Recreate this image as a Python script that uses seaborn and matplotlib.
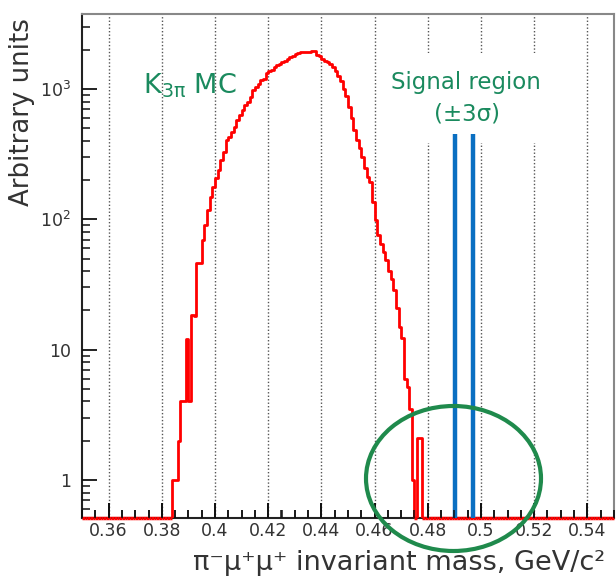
import numpy as np
import pandas as pd
import matplotlib
matplotlib.use("Agg")
import matplotlib.pyplot as plt
from matplotlib.lines import TICKUP
from matplotlib.patches import Ellipse, Rectangle
from matplotlib.ticker import FixedLocator, MultipleLocator, LogLocator, NullFormatter
import seaborn as sns

# ---- data -------------------------------------------------------------
x_min, x_max = 0.35, 0.55          # GeV/c^2
bin_width = 0.001
first_filled_edge = 0.384
# K3pi MC entries per bin, starting at first_filled_edge
counts = [1, 1, 2, 4, 4, 12, 4, 18.5, 18, 46,
          46, 69, 90, 118, 149, 178, 207, 240, 285, 330,
          405, 430, 470, 515, 580, 630, 690, 755, 800, 870,
          980, 1040, 1100, 1170, 1205, 1320, 1370, 1400, 1470, 1520,
          1560, 1610, 1640, 1700, 1760, 1790, 1860, 1880, 1915, 1910,
          1920, 1915, 1970, 1960, 1840, 1780, 1700, 1640, 1600, 1550,
          1480, 1370, 1260, 1150, 1000, 880, 730, 600, 485, 405,
          350, 300, 250, 212, 195, 137, 99, 76, 65, 56,
          49, 40, 35, 28.7, 21, 15, 12.3, 6.0, 5.2, 3.5,
          1, 0, 2.1, 2.1]
signal_lo, signal_hi = 0.4903, 0.4971
signal_line_top = 450
y_lo, y_hi = 0.51, 3770
x_ticks = [0.36, 0.38, 0.40, 0.42, 0.44, 0.46, 0.48, 0.50, 0.52, 0.54]
x_tick_labels = ["0.36", "0.38", "0.4", "0.42", "0.44", "0.46", "0.48", "0.5", "0.52", "0.54"]
x_minor_step = 0.005
y_ticks = [1, 10, 100, 1000]
y_tick_labels = ["1", "10", r"$10^{2}$", r"$10^{3}$"]

# ---- histogram arrays ------------------------------------------------
n_bins = int(round((x_max - x_min) / bin_width))
edges = np.round(x_min + bin_width * np.arange(n_bins + 1), 6)
heights = np.zeros(n_bins)
start = int(round((first_filled_edge - x_min) / bin_width))
heights[start:start + len(counts)] = counts
hist_df = pd.DataFrame({"mass": 0.5 * (edges[:-1] + edges[1:]), "entries": heights})

# ---- style -------------------------------------------------------------
sns.set_theme(style="ticks")
plt.rcParams["font.family"] = ["DejaVu Sans"]
plt.rcParams["mathtext.fontset"] = "dejavusans"

W, H = 616, 579
fig = plt.figure(figsize=(W / 100, H / 100), dpi=100)
ax = fig.add_axes([82 / W, 1 - 518 / H, (614 - 82) / W, (518 - 14) / H])
ax.set_axisbelow(False)

def fxy(x, y):
    return x / W, 1 - y / H

green_text = "#1a8a5e"
green_ring = "#1f8a4c"
blue = "#0a6fc2"
tick_col = "#111111"

# vertical dotted grid at major ticks
for xt in x_ticks:
    ax.axvline(xt, color="#555555", lw=1.0, ls=(0, (1, 1.5)), zorder=1)

sns.histplot(data=hist_df, x="mass", weights="entries", bins=edges.tolist(),
             element="step", fill=False, color="red", linewidth=2.0, ax=ax, zorder=4)

ax.set_yscale("log")
ax.set_xlim(x_min, x_max)
ax.set_ylim(y_lo, y_hi)

# empty bins are drawn along the bottom of the frame
zero = heights <= 0
ax.hlines(np.full(zero.sum(), y_lo), edges[:-1][zero], edges[1:][zero],
          color="red", lw=2.5, zorder=3, clip_on=False)

# white panel behind the signal-region caption
ax.add_artist(Rectangle(fxy(380, 143), 170 / W, 90 / H, transform=fig.transFigure,
                        facecolor="white", edgecolor="none", zorder=2))

# signal region boundaries
ax.vlines([signal_lo, signal_hi], y_lo, signal_line_top, color=blue, lw=3.2, zorder=5)

# ticks
ax.xaxis.set_major_locator(FixedLocator(x_ticks))
ax.set_xticklabels(x_tick_labels)
ax.xaxis.set_minor_locator(MultipleLocator(x_minor_step))
ax.yaxis.set_major_locator(FixedLocator(y_ticks))
ax.set_yticklabels(y_tick_labels)
ax.yaxis.set_minor_locator(LogLocator(base=10, subs=np.arange(2, 10), numticks=20))
ax.yaxis.set_minor_formatter(NullFormatter())
ax.tick_params(which="both", direction="in", bottom=True, left=True, top=False, right=False)
ax.tick_params(which="major", length=11, width=1.3, color=tick_col,
               labelcolor="#333333", labelsize=12.5, pad=3)
ax.tick_params(which="minor", length=6, width=1.1, color=tick_col)
ax.tick_params(axis="y", which="major", pad=8)

# inward tick marks along the mass axis
minor_x = [v for v in np.round(np.arange(x_min, x_max + 1e-9, x_minor_step), 4)
           if min(abs(v - t) for t in x_ticks) > 1e-6]
xaxis_tf = ax.get_xaxis_transform()
ax.plot(x_ticks, np.zeros(len(x_ticks)), transform=xaxis_tf, ls="none", marker=TICKUP,
        ms=11, mew=1.3, color=tick_col, clip_on=False, zorder=9)
ax.plot(minor_x, np.zeros(len(minor_x)), transform=xaxis_tf, ls="none", marker=TICKUP,
        ms=6, mew=1.1, color=tick_col, clip_on=False, zorder=9)

for side, sp in ax.spines.items():
    sp.set_color("#222222" if side in ("left", "bottom") else "#888888")
    sp.set_linewidth(1.5)
ax.set_xlabel("")
ax.set_ylabel("")

# axis titles
fig.text(*fxy(605, 563), "π⁻μ⁺μ⁺ invariant mass, GeV/c²", ha="right", va="center",
         fontsize=19.5, color="#333333")
fig.text(*fxy(22, 18), "Arbitrary units", rotation=90, ha="center", va="top",
         fontsize=18.7, color="#333333")

# annotations
fig.text(*fxy(143, 86), r"K$_\mathregular{3π}$ MC", ha="left", va="center",
         fontsize=19.5, color=green_text)
fig.text(*fxy(466, 82), "Signal region", ha="center", va="center",
         fontsize=16.5, color=green_text)
fig.text(*fxy(467, 114), "(±3σ)", ha="center", va="center",
         fontsize=16.5, color=green_text)

ring = Ellipse(fxy(453.5, 478.5), 175 / W, 145 / H, transform=fig.transFigure,
               facecolor="none", edgecolor=green_ring, lw=3.0, zorder=10)
fig.add_artist(ring)

fig.savefig("out.png", dpi=100, facecolor="white")
